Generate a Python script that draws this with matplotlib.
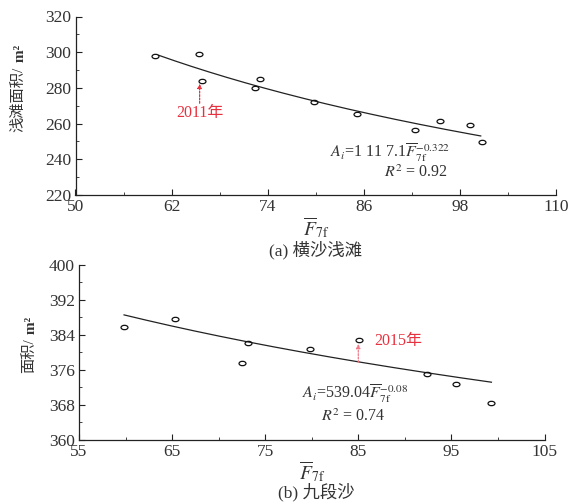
import numpy as np
import matplotlib
matplotlib.use("Agg")
import matplotlib.pyplot as plt
import matplotlib.transforms as mtransforms
from matplotlib.path import Path
from matplotlib.transforms import Affine2D

plt.rcParams['font.family'] = ['Liberation Serif', 'Noto Sans CJK SC', 'DejaVu Sans']
plt.rcParams['mathtext.fontset'] = 'stix'

# ---- data (a) 横沙浅滩 ----
xa = [59.9, 65.4, 65.8, 72.4, 73.1, 79.8, 85.2, 92.4, 95.5, 99.3, 100.7]
ya = [298.0, 299.1, 284.0, 280.2, 285.2, 272.1, 265.2, 256.4, 261.7, 259.0, 249.5]
coef_a, exp_a = 1117.1, -0.322
fit_a_range = [60.4, 100.6]

# ---- data (b) 九段沙 ----
xb = [59.84, 65.3, 72.5, 73.1, 79.8, 85.1, 92.4, 95.5, 99.3]
yb = [385.8, 387.6, 377.6, 382.1, 380.7, 382.7, 374.9, 372.8, 368.4]
coef_b, exp_b = 539.04, -0.08
fit_b_range = [59.84, 99.3]

text_c = '#333333'
red = '#e8303f'
pink = '#f07a88'

ell = Path.unit_circle().transformed(Affine2D().scale(1.6, 1.0))

W, H = 581, 504
fig = plt.figure(figsize=(W / 100, H / 100), dpi=100)
axa = fig.add_axes([75.5 / W, 1 - 195 / H, 480.5 / W, 178.5 / H])
axb = fig.add_axes([79 / W, 1 - 439.5 / H, 465.5 / W, 174.5 / H])

def style(ax):
    for s in ['top', 'right']:
        ax.spines[s].set_visible(False)
    for s in ['left', 'bottom']:
        ax.spines[s].set_color('#222222')
        ax.spines[s].set_linewidth(0.9)
    ax.tick_params(which='both', direction='in', colors='#222222', labelcolor=text_c,
                   labelsize=12.5, pad=3)
    ax.tick_params(which='major', length=4)
    ax.tick_params(which='minor', length=2.5)

def ylab(ax, cjk, xpos, ysplit):
    tr = mtransforms.blended_transform_factory(ax.transAxes, ax.transData)
    ax.text(xpos, ysplit, cjk, transform=tr, rotation=90, fontsize=11,
            color=text_c, ha='center', va='top', clip_on=False)
    ax.text(xpos + 0.004, ysplit, ' m²', transform=tr, rotation=90, fontsize=11,
            fontweight='bold', color=text_c, ha='center', va='bottom', clip_on=False)

# (a)
style(axa)
xf = np.linspace(*fit_a_range, 200)
axa.plot(xf, coef_a * xf ** exp_a, color='#222222', lw=0.9)
axa.plot(xa, ya, linestyle='none', marker=ell, markersize=5, mfc='none',
         mec='#111111', mew=0.9)
axa.set_xlim(50, 110)
axa.set_ylim(220, 320)
axa.set_xticks(np.arange(50, 111, 12))
axa.set_xticks(np.arange(56, 110, 12), minor=True)
axa.set_yticks(np.arange(220, 321, 20))
axa.set_yticks(np.arange(230, 320, 20), minor=True)
ylab(axa, '浅滩面积/', -0.118, 292.0)
axa.set_xlabel(r'$\overline{F}_{\mathrm{7f}}$', fontsize=14, color=text_c, labelpad=0)
axa.annotate('', xy=(65.5, 282.3), xytext=(65.5, 271.4),
             arrowprops=dict(arrowstyle='-|>', color=red, lw=0.9, linestyle=(0, (1.5, 1.2)),
                             mutation_scale=6, shrinkA=0, shrinkB=0))
axa.text(65.6, 265.8, '2011年', color=red, fontsize=11.5, ha='center', va='center')
axa.text(81.8, 243.8, r'$A_i$=1 11 7.1$\overline{F}_{\mathrm{7f}}^{-0.322}$',
         fontsize=11.5, color=text_c, ha='left', va='center')
axa.text(92.5, 232.7, r'$R^2$ = 0.92', fontsize=11.5, color=text_c, ha='center', va='center')

# (b)
style(axb)
xf = np.linspace(*fit_b_range, 200)
axb.plot(xf, coef_b * xf ** exp_b, color='#222222', lw=0.9)
axb.plot(xb, yb, linestyle='none', marker=ell, markersize=5, mfc='none',
         mec='#111111', mew=0.9)
axb.set_xlim(55, 105)
axb.set_ylim(360, 400)
axb.set_xticks(np.arange(55, 106, 10))
axb.set_xticks(np.arange(60, 105, 10), minor=True)
axb.set_yticks(np.arange(360, 401, 8))
axb.set_yticks(np.arange(364, 400, 8), minor=True)
ylab(axb, '面积/', -0.107, 383.3)
axb.set_xlabel(r'$\overline{F}_{\mathrm{7f}}$', fontsize=14, color=text_c, labelpad=0)
axb.annotate('', xy=(85.0, 381.9), xytext=(85.0, 377.7),
             arrowprops=dict(arrowstyle='-|>', color=pink, lw=0.9, linestyle=(0, (1.5, 1.2)),
                             mutation_scale=6, shrinkA=0, shrinkB=0))
axb.text(86.7, 382.5, '2015年', color=red, fontsize=11.5, ha='left', va='center')
axb.text(78.9, 370.4, r'$A_i$=539.04$\overline{F}_{\mathrm{7f}}^{-0.08}$',
         fontsize=11.5, color=text_c, ha='left', va='center')
axb.text(84.5, 365.3, r'$R^2$ = 0.74', fontsize=11.5, color=text_c, ha='center', va='center')

fig.text(316 / W, 1 - 250 / H, '(a) 横沙浅滩', fontsize=12.5, color=text_c, ha='center', va='center')
fig.text(316 / W, 1 - 492 / H, '(b) 九段沙', fontsize=12.5, color=text_c, ha='center', va='center')

fig.savefig('out.png', dpi=100)
